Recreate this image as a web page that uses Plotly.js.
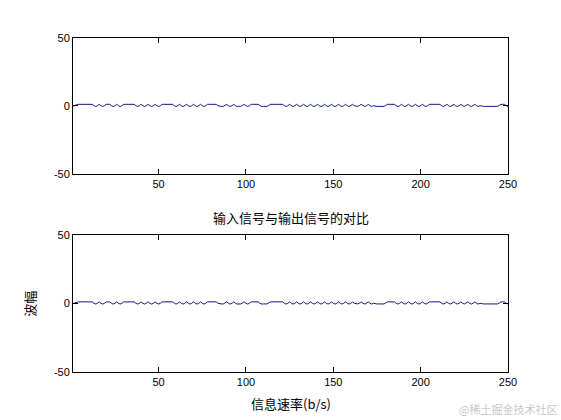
<!DOCTYPE html>
<html>
<head>
<meta charset="utf-8">
<script src="https://cdn.plot.ly/plotly-3.0.1.min.js"></script>
<style>html,body{margin:0;padding:0;background:#fff;}#chart{width:561px;height:420px;}</style>
</head>
<body>
<div id="chart"></div>
<script>
// Signal values (samples 1..250), same in both panels
const inputSignal = [
  0, 0.6, 1.2,
  1.2, 1.2, 1.2, 1.2, 1.2, 1.2, 1.2, 1.2, 1.2,
  0.2, -0.4, 0.2, 1.2, 0.2, -0.4, 0.2, 1.2,
  1.2, 1.2,
  0.2, -0.4, 0.2, 1.2, 0.2, -0.4, 0.2, 1.2,
  1.2, 1.2, 1.2, 1.2, 1.2, 1.2,
  0.2, -0.4, 0.2, 1.2, 0.2, -0.4, 0.2, 1.2, 0.2, -0.4, 0.2, 1.2, 0.2, -0.4, 0.2, 1.2,
  1.2, 1.2, 1.2, 1.2, 1.2, 1.2,
  0.2, -0.4, 0.2, 1.2, 0.2, -0.4, 0.2, 1.2, 0.2, -0.4, 0.2, 1.2, 0.2, -0.4, 0.2, 1.2, 0.2, -0.4, 0.2, 1.2,
  1.2, 1.2, 1.2, 1.2, 1.2,
  0.2, -0.3, -0.3, -0.3,
  0.4, 1.2, 0.2, -0.4, 0.2, 1.2, 0.2, -0.4,
  -0.3, -0.3,
  0.4, 1.2, 0.2, -0.4, 0.2, 1.2,
  1.2, 1.2, 1.2, 1.2,
  0.2, -0.4,
  -0.3, -0.3, -0.3,
  0.4, 1.2,
  1.2, 1.2, 1.2, 1.2, 1.2, 1.2, 1.2,
  0.2, -0.4, 0.2, 1.2, 0.2, -0.4, 0.2, 1.2, 0.2, -0.4, 0.2, 1.2, 0.2, -0.4, 0.2, 1.2, 0.2, -0.4, 0.2, 1.2,
  0.2, -0.4, 0.2, 1.2, 0.2, -0.4, 0.2, 1.2, 0.2, -0.4, 0.2, 1.2, 0.2, -0.4, 0.2, 1.2, 0.2, -0.4, 0.2, 1.2,
  0.2, -0.3, -0.3,
  0.4, 1.2, 0.2, -0.4, 0.2, 1.2, 0.2, -0.4, 0.2,
  -0.3, -0.3, -0.3, -0.3, -0.3, -0.3,
  0.4, 1.2, 1.2, 1.2, 1.2, 1.2,
  0.2, -0.4, 0.2, 1.2, 0.2, -0.4, 0.2, 1.2, 0.2, -0.4, 0.2, 1.2, 0.2, -0.4, 0.2, 1.2, 0.2, -0.4, 0.2, 1.2,
  1.2, 1.2, 1.2, 1.2, 1.2, 1.2,
  0.2, -0.4, 0.2, 1.2, 0.2, -0.4, 0.2, 1.2, 0.2, -0.4, 0.2, 1.2,
  0.2, -0.3,
  0.4, 1.2, 0.2, -0.4, 0.2, 1.2, 0.2, -0.4, 0.2,
  -0.3, -0.3, -0.3, -0.3, -0.3, -0.3, -0.3, -0.3, -0.3, -0.3,
  0.4, 1.2, 1.2, 1.2,
  0.2, -0.4
];
const outputSignal = inputSignal.slice();
const sampleIndex = inputSignal.map((_, i) => i + 1);

const xTicks = [50, 100, 150, 200, 250];
const yTicks = [-50, 0, 50];

const chartTitle = '输入信号与输出信号的对比';
const xLabel = '信息速率(b/s)';
const yLabel = '波幅';
const watermark = '@稀土掘金技术社区';

const lineColor = '#14147a';
const tickFont = {family: 'Liberation Sans, Arial, sans-serif', size: 11, color: '#000'};
const cjkFont = {family: 'Noto Sans CJK SC, sans-serif', size: 13, color: '#000'};

function xAxis(anchor) {
  return {
    anchor: anchor, range: [1, 250], tickvals: xTicks, ticktext: xTicks.map(String),
    showline: true, linecolor: '#000', linewidth: 1, mirror: 'ticks',
    ticks: 'inside', ticklen: 5, tickcolor: '#000', showgrid: false, zeroline: false,
    tickfont: tickFont
  };
}
function yAxis(anchor, domain) {
  return {
    anchor: anchor, domain: domain, range: [-50, 50], tickvals: yTicks, ticktext: yTicks.map(String),
    showline: true, linecolor: '#000', linewidth: 1, mirror: 'ticks',
    ticks: 'inside', ticklen: 5, tickcolor: '#000', showgrid: false, zeroline: false,
    tickfont: tickFont
  };
}

const traces = [
  {x: sampleIndex, y: inputSignal, xaxis: 'x', yaxis: 'y', type: 'scatter', mode: 'lines',
   line: {color: lineColor, width: 1}, hoverinfo: 'skip'},
  {x: sampleIndex, y: outputSignal, xaxis: 'x2', yaxis: 'y2', type: 'scatter', mode: 'lines',
   line: {color: lineColor, width: 1}, hoverinfo: 'skip'}
];

const layout = {
  width: 561, height: 420,
  margin: {l: 73, r: 53, t: 38, b: 48},
  paper_bgcolor: '#fff', plot_bgcolor: '#fff',
  showlegend: false,
  xaxis: xAxis('y'),
  yaxis: yAxis('x', [0.593, 1]),
  xaxis2: xAxis('y2'),
  yaxis2: yAxis('x2', [0, 0.41]),
  annotations: [
    {text: chartTitle, xref: 'paper', yref: 'paper', x: 0.5, y: 0.464, xanchor: 'center', yanchor: 'middle',
     showarrow: false, font: cjkFont},
    {text: xLabel, xref: 'paper', yref: 'paper', x: 0.5, y: -0.093, xanchor: 'center', yanchor: 'middle',
     showarrow: false, font: cjkFont},
    {text: yLabel, xref: 'paper', yref: 'paper', x: -0.099, y: 0.204, xanchor: 'center', yanchor: 'middle',
     textangle: -90, showarrow: false, font: cjkFont},
    {text: watermark, xref: 'paper', yref: 'paper', x: 1.117, y: -0.111, xanchor: 'right', yanchor: 'middle',
     showarrow: false, font: {family: 'Noto Sans CJK SC, sans-serif', size: 11, color: '#c8c8c8'}}
  ]
};

Plotly.newPlot('chart', traces, layout, {staticPlot: true, displayModeBar: false});
</script>
</body>
</html>
